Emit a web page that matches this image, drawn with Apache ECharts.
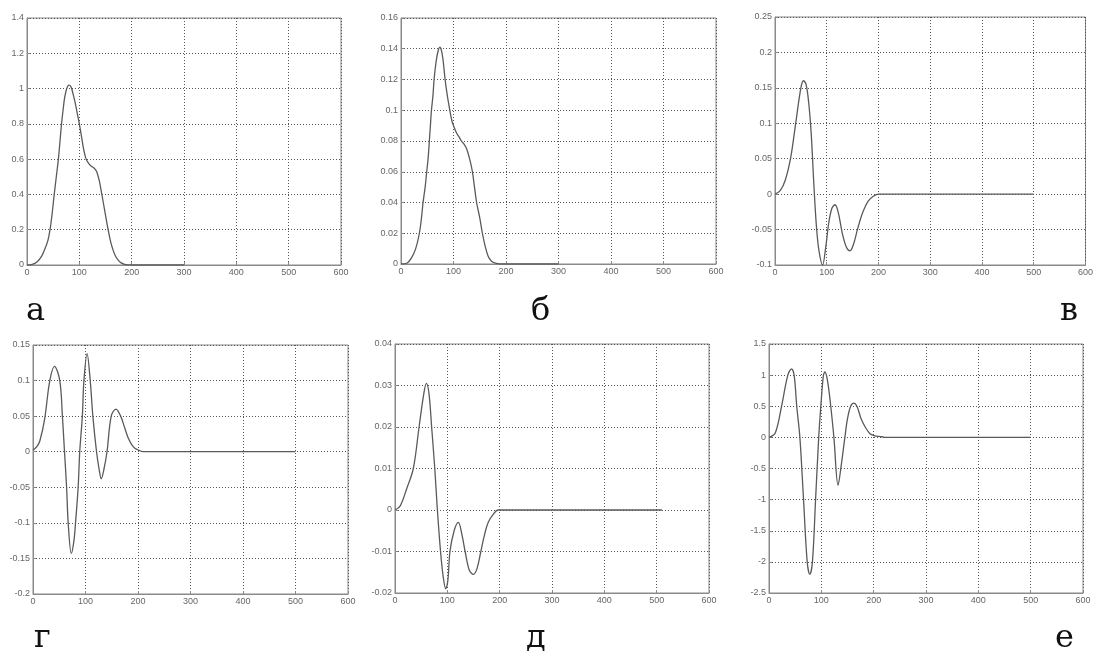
<!DOCTYPE html>
<html>
<head>
<meta charset="utf-8">
<script src="https://cdn.jsdelivr.net/npm/echarts@6/dist/echarts.min.js"></script>
<style>
html, body { margin: 0; padding: 0; background: #fff; }
#canvas_main { width: 1096px; height: 651px; }
</style>
</head>
<body>
<div id="canvas_main"></div>
<script>
// panel labels
var panelNames = ['а', 'б', 'в', 'г', 'д', 'е'];
var xTicks = [0, 100, 200, 300, 400, 500, 600];

// а
var xA = [0,10,20,28,34,40,44,48,52,56,60,63,66,69,72,76,80,84,88,92,96,100,104,108,113,118,123,128,133,138,143,149,155,160,165,170,175,180,185,190,195,200,250,300];
var yA = [0,0.003,0.02,0.05,0.09,0.14,0.2,0.29,0.4,0.5,0.6,0.7,0.8,0.88,0.95,1.0,1.02,1.01,0.97,0.92,0.86,0.8,0.73,0.66,0.6,0.575,0.56,0.55,0.53,0.48,0.4,0.3,0.2,0.13,0.08,0.045,0.025,0.012,0.005,0.002,0.0005,0,0,0];
// б
var xB = [0,11,20,28,35,39,42,46,49,52,54,56,58,61,63,67,71,74,77,80,84,88,93,97,100,106,110,115,120,125,131,136,140,144,150,155,160,166,172,180,188,200,250,300];
var yB = [0,0.0005,0.004,0.01,0.02,0.03,0.04,0.05,0.06,0.07,0.08,0.09,0.1,0.11,0.12,0.132,0.139,0.141,0.139,0.133,0.12,0.11,0.1,0.093,0.09,0.085,0.083,0.08,0.078,0.075,0.068,0.06,0.05,0.04,0.03,0.02,0.012,0.005,0.002,0.0005,0,0,0,0];
// в
var xV = [0,10,20,30,40,50,55,60,65,70,75,80,85,92,98,104,110,116,122,130,138,145,152,160,170,180,190,200,300,400,500];
var yV = [0,0.005,0.02,0.05,0.1,0.15,0.16,0.155,0.13,0.085,0.015,-0.045,-0.08,-0.1,-0.075,-0.04,-0.02,-0.015,-0.025,-0.055,-0.075,-0.08,-0.07,-0.048,-0.025,-0.01,-0.003,0,0,0,0];
// г
var xG = [0,8,13,22,32,41,51,56,60,64,67,73,78,81,86,89,94,97,103,109,114,121,126,130,135,141,149,158,167,174,181,188,194,202,210,250,300,400,500];
var yG = [0.002,0.008,0.015,0.045,0.1,0.12,0.1,0.05,0,-0.05,-0.1,-0.143,-0.125,-0.1,-0.05,0,0.05,0.1,0.138,0.1,0.05,0,-0.025,-0.038,-0.025,0,0.05,0.06,0.05,0.035,0.02,0.01,0.005,0.002,0,0,0,0,0];
// д
var xD = [0,10,22,35,46,55,60,65,70,76,81,87,92,97,101,105,113,121,128,134,142,150,157,164,171,178,188,197,250,300,400,510];
var yD = [0,0.001,0.005,0.01,0.02,0.028,0.0305,0.028,0.02,0.01,0,-0.01,-0.016,-0.019,-0.017,-0.01,-0.005,-0.003,-0.006,-0.01,-0.0145,-0.0155,-0.014,-0.01,-0.006,-0.003,-0.001,0,0,0,0,0];
// е
var xE = [0,12,24,36,43,48,53,59,66,73,78,83,89,95,99,104,107,112,118,124,132,138,145,150,156,162,168,176,185,193,201,210,216,223,300,400,500];
var yE = [0,0.07,0.5,1.0,1.1,1.0,0.5,0,-1,-2,-2.2,-2,-1,0,0.5,1.0,1.05,0.9,0.5,0,-0.77,-0.45,0,0.3,0.5,0.55,0.5,0.3,0.15,0.06,0.03,0.015,0.01,0,0,0,0];

var xs = [xA, xB, xV, xG, xD, xE];
var ys = [yA, yB, yV, yG, yD, yE];
var yMin = [0, 0, -0.1, -0.2, -0.02, -2.5];
var yMax = [1.4, 0.16, 0.25, 0.15, 0.04, 1.5];
var yStep = [0.2, 0.02, 0.05, 0.05, 0.01, 0.5];

var grids = [
	{left: 27, top: 18, width: 314, height: 247},
	{left: 401, top: 18, width: 315, height: 246},
	{left: 775, top: 17, width: 314, height: 248},
	{left: 33, top: 345, width: 315, height: 249},
	{left: 395, top: 344, width: 314, height: 249},
	{left: 769, top: 344, width: 314, height: 249}
];
var labelPos = [
	{left: 26, top: 296}, {left: 531, top: 296}, {left: 1060, top: 296},
	{left: 34, top: 623}, {left: 526, top: 623}, {left: 1055, top: 623}
];

function pairs(x, y) {
	var out = [];
	for (var i = 0; i < x.length; i++) out.push([x[i], y[i]]);
	return out;
}

var myChart = echarts.init(document.getElementById('canvas_main'), null, {renderer: 'canvas'});
var axisColor = '#8a8a8a';
var gridArr = [], xAxes = [], yAxes = [], series = [], titles = [];
for (var i = 0; i < 6; i++) {
	gridArr.push({
		left: grids[i].left, top: grids[i].top, width: grids[i].width, height: grids[i].height,
		show: true, borderColor: axisColor, borderWidth: 1, backgroundColor: '#fff'
	});
	xAxes.push({
		type: 'value', gridIndex: i, min: 0, max: 600, interval: 100,
		axisLine: {show: true, onZero: false, lineStyle: {color: axisColor}},
		axisTick: {show: true, inside: true, length: 3, lineStyle: {color: axisColor}},
		axisLabel: {fontSize: 9, color: '#666', margin: 3, fontFamily: 'Liberation Sans'},
		splitLine: {show: true, lineStyle: {color: '#555', width: 1, type: [1, 2]}}
	});
	yAxes.push({
		type: 'value', gridIndex: i, min: yMin[i], max: yMax[i], interval: yStep[i],
		axisLine: {show: true, onZero: false, lineStyle: {color: axisColor}},
		axisTick: {show: true, inside: true, length: 3, lineStyle: {color: axisColor}},
		axisLabel: {fontSize: 9, color: '#666', margin: 3, fontFamily: 'Liberation Sans'},
		splitLine: {show: true, lineStyle: {color: '#555', width: 1, type: [1, 2]}}
	});
	series.push({
		type: 'line', xAxisIndex: i, yAxisIndex: i,
		data: pairs(xs[i], ys[i]),
		smooth: 0.35, showSymbol: false, silent: true,
		lineStyle: {color: '#5a5a5a', width: 1.3}
	});
	titles.push({
		text: panelNames[i], left: labelPos[i].left, top: labelPos[i].top, padding: 0,
		textStyle: {fontFamily: 'DejaVu Serif', fontSize: 32, fontWeight: 'normal', color: '#111'}
	});
}

var option = {
	backgroundColor: '#fff',
	animation: false,
	title: titles,
	grid: gridArr,
	xAxis: xAxes,
	yAxis: yAxes,
	series: series
};
myChart.setOption(option);
</script>
</body>
</html>
